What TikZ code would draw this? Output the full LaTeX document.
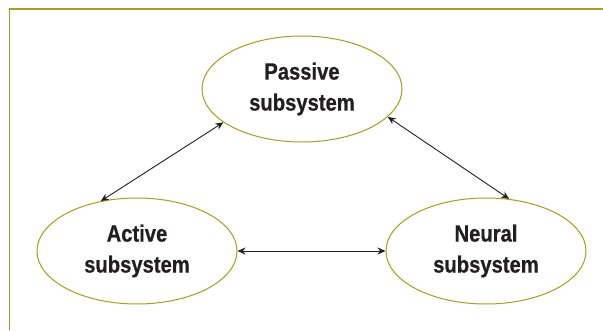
\documentclass[tikz,border=0pt]{standalone}
\usepackage{fontspec}
\setmainfont{Liberation Sans}[FakeStretch=0.86,BoldFeatures={FakeBold=0.6}]
\usetikzlibrary{shapes.geometric,arrows.meta}
\definecolor{olive1}{HTML}{A89D1C}
\definecolor{ink}{HTML}{231F20}
\tikzset{
  sub/.style={ellipse, draw=olive1, line width=1pt, minimum width=200pt, minimum height=106pt,
    inner sep=0pt, align=center, text=ink, font=\fontsize{23.5}{31}\selectfont\bfseries},
  link/.style={draw=ink, line width=0.9pt, {Stealth[length=8pt,width=7pt]}-{Stealth[length=8pt,width=7pt]}},
  frame/.style={draw=olive1, line width=1.3pt}
}
\begin{document}
\begin{tikzpicture}[x=1pt,y=1pt]
\useasboundingbox (0,0) rectangle (603,330);
\coordinate (fa) at (9.5,0);
\coordinate (fb) at (9.5,321);
\coordinate (fc) at (603,321);
\draw[frame] (fa) -- (fb) -- (fc);
\node[sub] (P) at (302,241) {Passive\\subsystem};
\node[sub] (A) at (137,79) {Active\\subsystem};
\node[sub] (N) at (486,79) {Neural\\subsystem};
\draw[link] (P.203) -- (A.126);
\draw[link] (P.-18) -- (N.66);
\draw[link] (A.east) -- (N.west);
\end{tikzpicture}
\end{document}
